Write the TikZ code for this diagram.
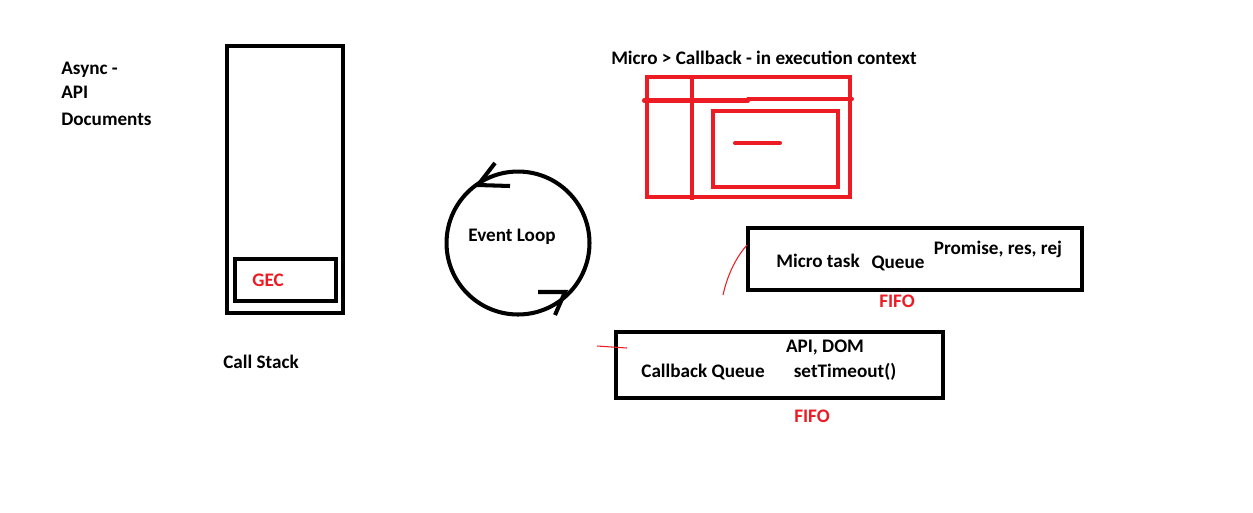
\documentclass[tikz,border=0pt]{standalone}
\usepackage{fontspec}
\setmainfont{Carlito}
\usetikzlibrary{arrows}
\definecolor{paintred}{RGB}{237,28,36}

\begin{document}
\begin{tikzpicture}[x=0.02cm,y=-0.02cm,
        box/.style={draw,line width=2.3pt,inner sep=0pt},
        lbl/.style={font=\fontsize{10.9}{13}\selectfont\bfseries,inner sep=0pt},
        redlbl/.style={lbl,text=paintred},
        redline/.style={paintred,line width=2.3pt},
        tick/.style={paintred,line width=0.6pt}]

  \useasboundingbox (0,0) rectangle (1253,512);
  \fill[white] (0,0) rectangle (1253,512);

  % left notes
  \node[lbl,anchor=west] (async) at (61,70) {Async -};
  \node[lbl,anchor=west] (api) at (61,92) {API};
  \node[lbl,anchor=west] (docs) at (61,119) {Documents};

  % call stack
  \node[box,minimum width=2.32cm,minimum height=5.34cm] (stack) at (285,179.5) {};
  \node[box,minimum width=2.02cm,minimum height=0.84cm] (gec) at (285.5,280) {};
  \node[redlbl] (geclbl) at (268,280) {GEC};
  \node[lbl] (stacklbl) at (261,362) {Call Stack};

  % event loop
  \node[circle,draw,line width=2.3pt,minimum size=2.86cm] (loop) at (518,243) {};
  \node[lbl] (looplbl) at (512,237) {Event Loop};
  \draw[line width=2.3pt] (495,163) -- (478,185) -- (510,186);
  \draw[line width=2.3pt] (538,292) -- (565,292) -- (555,315);

  % execution context sketch
  \node[lbl] (title) at (764,58) {Micro > Callback - in execution context};
  \draw[redline] (647,77) rectangle (850,197);
  \draw[redline] (692,77) -- (692,200);
  \draw[redline,line cap=round] (644,100.5) -- (748,100.5);
  \draw[redline,line cap=round] (748,99) -- (852,99);
  \draw[redline] (713,111) rectangle (838,187);
  \draw[redline,line cap=round] (735,143) -- (780,143);

  % micro task queue
  \node[box,minimum width=6.68cm,minimum height=1.24cm] (micro) at (915,259) {};
  \node[lbl] (microlbl) at (818,261) {Micro task};
  \node[lbl] (queuelbl) at (898,263) {Queue};
  \node[lbl] (promise) at (998,249) {Promise, res, rej};
  \node[redlbl] (fifo1) at (897,301) {FIFO};
  \coordinate (microtick) at (723,295);
  \draw[tick] (microtick) .. controls (728,272) and (738,255) .. (747,245);

  % callback queue
  \node[box,minimum width=6.54cm,minimum height=1.32cm] (callback) at (779.5,365) {};
  \node[lbl] (cblbl) at (703,372) {Callback Queue};
  \node[lbl] (apidom) at (825,348) {API, DOM};
  \node[lbl] (timeout) at (845,372) {setTimeout()};
  \node[redlbl] (fifo2) at (812,416) {FIFO};
  \coordinate (cbtick) at (597,346);
  \draw[tick] (cbtick) -- (627,348);

\end{tikzpicture}
\end{document}
